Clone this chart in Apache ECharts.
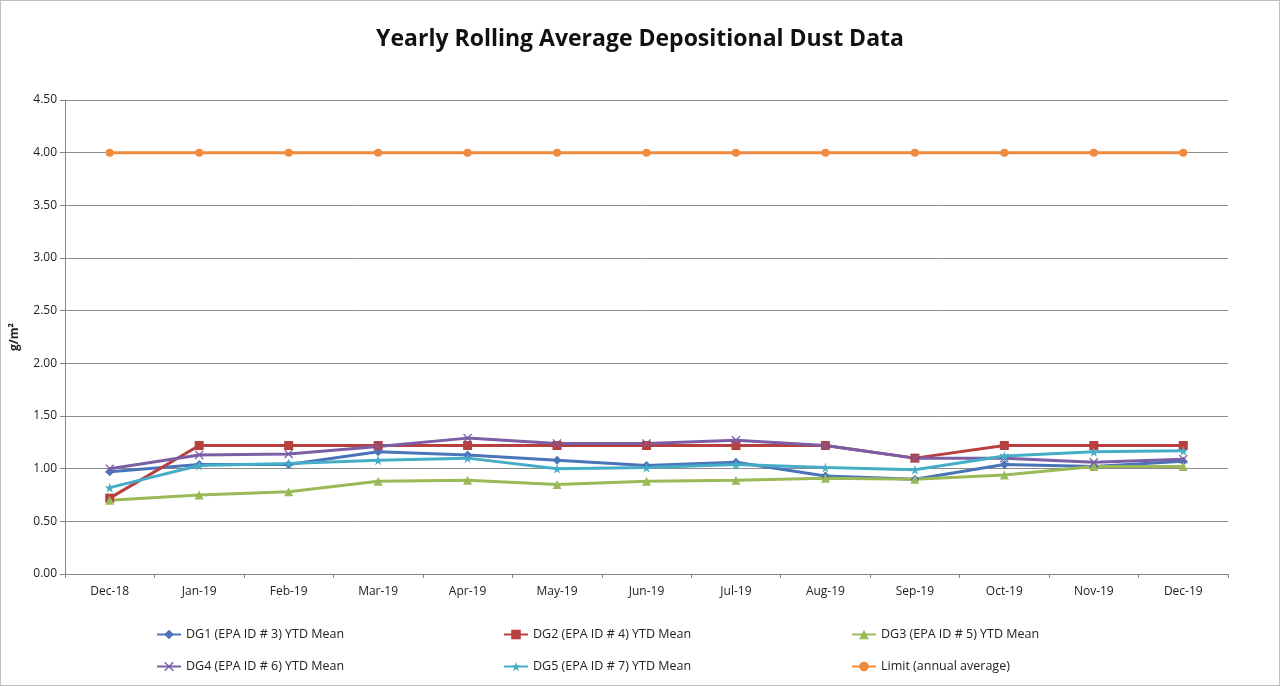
<!DOCTYPE html>
<html>
<head>
<meta charset="utf-8">
<script src="https://cdn.jsdelivr.net/npm/echarts@6/dist/echarts.min.js"></script>
<style>
  html, body { margin: 0; padding: 0; background: #fff; }
  #main { width: 1280px; height: 686px; box-sizing: border-box; border: 1px solid #bfbfbf; }
</style>
</head>
<body>
<div id="main"></div>
<script>
var months = ["Dec-18", "Jan-19", "Feb-19", "Mar-19", "Apr-19", "May-19", "Jun-19",
  "Jul-19", "Aug-19", "Sep-19", "Oct-19", "Nov-19", "Dec-19"];
var dg1 = [0.97, 1.04, 1.04, 1.16, 1.13, 1.08, 1.03, 1.06, 0.93, 0.90, 1.04, 1.02, 1.07];
var dg2 = [0.72, 1.22, 1.22, 1.22, 1.22, 1.22, 1.22, 1.22, 1.22, 1.10, 1.22, 1.22, 1.22];
var dg3 = [0.70, 0.75, 0.78, 0.88, 0.89, 0.85, 0.88, 0.89, 0.91, 0.90, 0.94, 1.02, 1.02];
var dg4 = [1.00, 1.13, 1.14, 1.21, 1.29, 1.24, 1.24, 1.27, 1.22, 1.10, 1.10, 1.06, 1.09];
var dg5 = [0.82, 1.03, 1.05, 1.08, 1.10, 1.00, 1.01, 1.04, 1.01, 0.99, 1.12, 1.16, 1.17];
var limit = [4, 4, 4, 4, 4, 4, 4, 4, 4, 4, 4, 4, 4];

var font = "'Open Sans', 'Noto Sans', sans-serif";
var starPath = "path://M50,0 L61,35 L98,35 L68,57 L79,91 L50,70 L21,91 L32,57 L2,35 L39,35 Z";
var xPath = "path://M0,10 L10,0 L50,40 L90,0 L100,10 L60,50 L100,90 L90,100 L50,60 L10,100 L0,90 L40,50 Z";

function line(name, data, color, symbol, size) {
  return {
    name: name,
    type: "line",
    data: data,
    symbol: symbol,
    symbolSize: size,
    lineStyle: { width: 3, color: color },
    itemStyle: { color: color },
    z: 3
  };
}

var myChart = echarts.init(document.getElementById("main"));
myChart.setOption({
  animation: false,
  textStyle: { fontFamily: font },
  title: {
    text: "Yearly Rolling Average Depositional Dust Data",
    left: "center",
    top: 22,
    textStyle: { fontSize: 23, fontWeight: "bold", color: "#111", fontFamily: font }
  },
  legend: [
    { data: ["DG1 (EPA ID # 3) YTD Mean", "DG4 (EPA ID # 6) YTD Mean"], left: 150, top: 622 },
    { data: ["DG2 (EPA ID # 4) YTD Mean", "DG5 (EPA ID # 7) YTD Mean"], left: 497, top: 622 },
    { data: ["DG3 (EPA ID # 5) YTD Mean", "Limit (annual average)"], left: 845, top: 622 }
  ].map(function (l) {
    return Object.assign({
      orient: "vertical",
      itemGap: 19,
      itemWidth: 24,
      itemHeight: 12,
      textStyle: { fontSize: 12.5, color: "#222", fontFamily: font }
    }, l);
  }),
  grid: { left: 63, right: 51, top: 99, bottom: 111 },
  xAxis: {
    type: "category",
    data: months,
    boundaryGap: true,
    axisLine: { lineStyle: { color: "#868686" } },
    axisTick: { show: true, length: 4, lineStyle: { color: "#868686" } },
    axisLabel: { color: "#222", fontSize: 12, margin: 12, fontFamily: font }
  },
  yAxis: {
    type: "value",
    min: 0,
    max: 4.5,
    interval: 0.5,
    name: "g/m²",
    nameLocation: "middle",
    nameGap: 44,
    nameTextStyle: { fontSize: 12, fontWeight: "bold", color: "#222", fontFamily: font },
    axisLine: { show: true, lineStyle: { color: "#868686" } },
    axisTick: { show: true, length: 5, lineStyle: { color: "#868686" } },
    splitLine: { lineStyle: { color: "#8c8c8c", width: 1 } },
    axisLabel: {
      color: "#222",
      fontSize: 12,
      margin: 8,
      fontFamily: font,
      formatter: function (v) { return v.toFixed(2); }
    }
  },
  series: [
    line("DG1 (EPA ID # 3) YTD Mean", dg1, "#4a74b8", "diamond", 9),
    line("DG2 (EPA ID # 4) YTD Mean", dg2, "#b7403f", "rect", 9),
    line("DG3 (EPA ID # 5) YTD Mean", dg3, "#9aba58", "triangle", 9),
    line("DG4 (EPA ID # 6) YTD Mean", dg4, "#7a5ea6", xPath, 9),
    line("DG5 (EPA ID # 7) YTD Mean", dg5, "#45adc8", starPath, 10),
    line("Limit (annual average)", limit, "#f08a3c", "circle", 8)
  ]
});
</script>
</body>
</html>
